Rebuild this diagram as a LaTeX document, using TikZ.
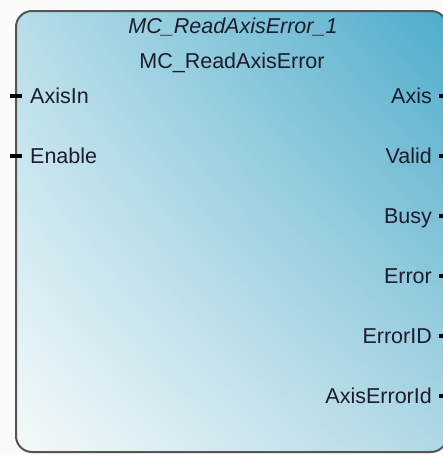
\documentclass[tikz,border=0pt]{standalone}
\usepackage{fontspec}
\setmainfont{Liberation Sans}
\usetikzlibrary{shadings}
\definecolor{ulc}{RGB}{182,221,232}
\definecolor{urc}{RGB}{78,172,203}
\definecolor{llc}{RGB}{244,249,250}
\definecolor{lrc}{RGB}{176,216,229}
\definecolor{bordc}{RGB}{85,85,85}
\definecolor{txtc}{RGB}{28,28,45}
\begin{document}
\begin{tikzpicture}[x=1pt,y=-1pt,
  lbl/.style={inner sep=0pt,text=txtc,font=\fontsize{21.5}{24}\selectfont},
  inpin/.style={fill=black,draw=none,minimum width=12pt,minimum height=4pt,inner sep=0pt},
  outpin/.style={fill=black,draw=none,minimum width=4pt,minimum height=4pt,inner sep=0pt}]
\useasboundingbox (0,0) rectangle (443,455);
\fill[white!97!gray] (0,0) rectangle (443,455);
\begin{scope}
\clip (0,0) rectangle (443,455);
\shadedraw[draw=bordc,line width=2pt,rounded corners=16pt,
  upper left=ulc,upper right=urc,lower left=llc,lower right=lrc]
  (16,11) rectangle (447,452);
\node[outpin] (pAxis) at (441,95.5) {};
\node[outpin] (pValid) at (441,155.5) {};
\node[outpin] (pBusy) at (441,215.5) {};
\node[outpin] (pError) at (441,275.5) {};
\node[outpin] (pErrorID) at (441,335.5) {};
\node[outpin] (pAxisErrorId) at (441,395.5) {};
\end{scope}
\node[lbl,anchor=base,font=\fontsize{21.5}{24}\selectfont\itshape] (inst) at (233,33) {MC\_ReadAxisError\_1};
\node[lbl,anchor=base] (type) at (232,68.5) {MC\_ReadAxisError};
\node[inpin] (pAxisIn) at (16,95.5) {};
\node[inpin] (pEnable) at (16,155.5) {};
\node[lbl,anchor=base west] (tAxisIn) at (30,103) {AxisIn};
\node[lbl,anchor=base west] (tEnable) at (30,163) {Enable};
\node[lbl,anchor=base east] (tAxis) at (432,103) {Axis};
\node[lbl,anchor=base east] (tValid) at (432,163) {Valid};
\node[lbl,anchor=base east] (tBusy) at (432,223) {Busy};
\node[lbl,anchor=base east] (tError) at (432,283) {Error};
\node[lbl,anchor=base east] (tErrorID) at (432,343) {ErrorID};
\node[lbl,anchor=base east] (tAxisErrorId) at (432,403) {AxisErrorId};
\end{tikzpicture}
\end{document}
